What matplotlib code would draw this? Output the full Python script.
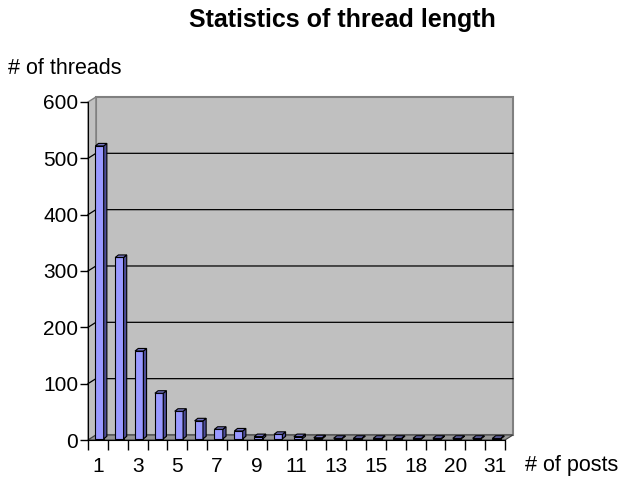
import matplotlib.pyplot as plt
from matplotlib.patches import Polygon
import numpy as np

plt.rcParams['font.family'] = ['Liberation Sans', 'DejaVu Sans']

# data
posts = ['1', '2', '3', '4', '5', '6', '7', '8', '9', '10', '11', '12', '13', '14',
         '15', '16', '18', '19', '20', '23', '31']
threads = [520, 322, 156, 81, 49, 32, 17, 14, 4, 8, 4, 2, 1, 1, 1, 1, 1, 1, 1, 1, 1]
y_ticks = [0, 100, 200, 300, 400, 500, 600]

n = len(posts)
x = np.arange(n)

fig = plt.figure(figsize=(6.22, 4.8), dpi=100)
ax = fig.add_axes([88 / 622, 1 - 440 / 480, (505 - 88) / 622, (440 - 102) / 480])
ax.set_xlim(-0.5, n - 0.5)
ax.set_ylim(0, 600)
ax.set_facecolor('none')

# depth of the fake 3d box, in data units
dx, dy = 0.40, 8.9
x0, x1 = -0.5, n - 0.5

# back wall, side wall, floor
ax.add_patch(Polygon([(x0 + dx, dy), (x1 + dx, dy), (x1 + dx, 600 + dy), (x0 + dx, 600 + dy)],
                     closed=True, fc='#C0C0C0', ec='#808080', lw=1.5, clip_on=False, zorder=0))
ax.add_patch(Polygon([(x0, 0), (x0, 600), (x0 + dx, 600 + dy), (x0 + dx, dy)],
                     closed=True, fc='#C0C0C0', ec='#808080', lw=1.0, clip_on=False, zorder=0))
ax.add_patch(Polygon([(x0, 0), (x1, 0), (x1 + dx, dy), (x0 + dx, dy)],
                     closed=True, fc='#969696', ec='#404040', lw=0.8, clip_on=False, zorder=0.5))

# gridlines on side + back wall
for v in y_ticks[1:-1]:
    ax.plot([x0, x0 + dx, x1 + dx], [v, v + dy, v + dy], color='black', lw=0.9,
            clip_on=False, zorder=0.6)

# bars: front face + side + top
w = 0.42
bx, by = 0.08, 2.0
ddx, ddy = 0.16, 4.5
front = '#9999FF'
side = '#4D4D99'
top = '#7373C0'
ax.bar(x + bx, threads, width=w, bottom=by, color=front, edgecolor='black', lw=0.8, zorder=3)
for xi, v in zip(x, threads):
    xl = xi + bx - w / 2
    xr = xi + bx + w / 2
    ax.add_patch(Polygon([(xr, by), (xr, by + v), (xr + ddx, by + v + ddy), (xr + ddx, by + ddy)],
                         closed=True, fc=side, ec='black', lw=0.8, zorder=3))
    ax.add_patch(Polygon([(xl, by + v), (xr, by + v), (xr + ddx, by + v + ddy), (xl + ddx, by + v + ddy)],
                         closed=True, fc=top, ec='black', lw=0.8, zorder=3))

# axes styling
for s in ['top', 'right']:
    ax.spines[s].set_visible(False)
ax.spines['left'].set_color('black')
ax.spines['bottom'].set_color('black')
ax.spines['left'].set_zorder(4)
ax.spines['bottom'].set_zorder(4)

ax.set_yticks(y_ticks)
ax.tick_params(axis='y', length=6, width=1, labelsize=15, pad=1)

ax.set_xticks(x)
ax.set_xticklabels([p if i % 2 == 0 else '' for i, p in enumerate(posts)])
ax.set_xticks(np.arange(n + 1) - 0.5, minor=True)
ax.tick_params(axis='x', which='major', length=0, labelsize=15, pad=12)
ax.tick_params(axis='x', which='minor', length=7, width=1)

fig.text(8 / 622, 1 - 68 / 480, '# of threads', fontsize=15.5, va='center', ha='left')
fig.text(525 / 622, 1 - 466 / 480, '# of posts', fontsize=15.5, va='center', ha='left')
fig.text(342 / 622, 1 - 20 / 480, 'Statistics of thread length', fontsize=18,
         fontweight='bold', va='center', ha='center')

fig.savefig('out.png', dpi=100)
